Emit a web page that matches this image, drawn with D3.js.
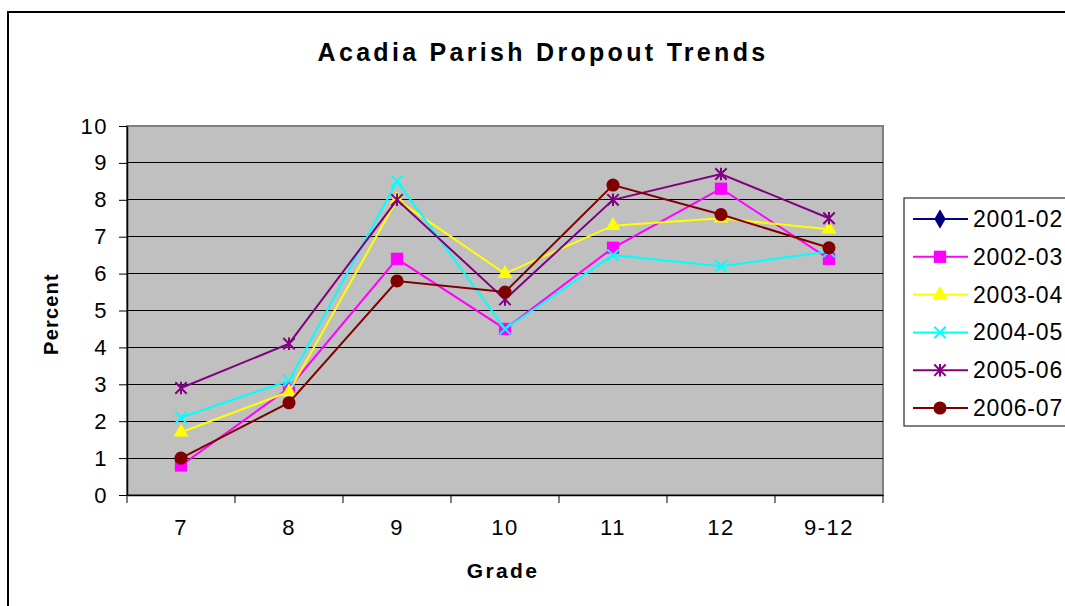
<!DOCTYPE html>
<html>
<head>
<meta charset="utf-8">
<script src="https://cdn.jsdelivr.net/npm/d3@7"></script>
<style>
  body { margin: 0; background: #fff; }
  text { font-family: "Liberation Sans", Arial, sans-serif; }
</style>
</head>
<body>
<div id="chart-area"></div>
<script>
// data
const grades = ["7", "8", "9", "10", "11", "12", "9-12"]
const seasons = ["2001-02", "2002-03", "2003-04", "2004-05", "2005-06", "2006-07"]
const yTicks = [0, 1, 2, 3, 4, 5, 6, 7, 8, 9, 10]

const v0102 = [null, null, null, null, null, null, null]   // in legend only, no points drawn
const v0203 = [0.8, 2.9, 6.4, 4.5, 6.7, 8.3, 6.4]
const v0304 = [1.7, 2.8, 8.0, 6.0, 7.3, 7.5, 7.2]
const v0405 = [2.1, 3.1, 8.5, 4.5, 6.5, 6.2, 6.6]
const v0506 = [2.9, 4.1, 8.0, 5.3, 8.0, 8.7, 7.5]
const v0607 = [1.0, 2.5, 5.8, 5.5, 8.4, 7.6, 6.7]

const W = 1065, H = 606
const PLOT = { LEFT: 127, RIGHT: 883, TOP: 126, BOTTOM: 495 }

// excel style star: an x with a vertical bar
const symbolStar = {
  draw(ctx, size) {
    const r = Math.sqrt(size) / 2
    ctx.moveTo(-r, -r); ctx.lineTo(r, r)
    ctx.moveTo(-r, r); ctx.lineTo(r, -r)
    ctx.moveTo(0, -r * 1.1); ctx.lineTo(0, r * 1.1)
  }
}
const symbolCross = {
  draw(ctx, size) {
    const r = Math.sqrt(size) / 2
    ctx.moveTo(-r, -r); ctx.lineTo(r, r)
    ctx.moveTo(-r, r); ctx.lineTo(r, -r)
  }
}

const styles = [
  { color: "#000080", type: d3.symbolDiamond, size: 110, fill: true },
  { color: "#ff00ff", type: d3.symbolSquare, size: 150, fill: true },
  { color: "#ffff00", type: d3.symbolTriangle, size: 95, fill: true },
  { color: "#00ffff", type: symbolCross, size: 130, fill: false },
  { color: "#800080", type: symbolStar, size: 130, fill: false },
  { color: "#800000", type: d3.symbolCircle, size: 135, fill: true }
]
const values = [v0102, v0203, v0304, v0405, v0506, v0607]

const svg = d3.select("#chart-area").append("svg")
  .attr("width", W)
  .attr("height", H)

// outer chart border (runs off the right and bottom edges)
svg.append("rect")
  .attr("x", 8).attr("y", 12)
  .attr("width", W + 20).attr("height", H + 20)
  .attr("fill", "#fff")
  .attr("stroke", "#000")
  .attr("stroke-width", 2)

const x = d3.scaleBand()
  .domain(grades)
  .range([PLOT.LEFT, PLOT.RIGHT])
  .padding(0)

const y = d3.scaleLinear()
  .domain([0, 10])
  .range([PLOT.BOTTOM, PLOT.TOP])

// plot background
svg.append("rect")
  .attr("x", PLOT.LEFT).attr("y", PLOT.TOP)
  .attr("width", PLOT.RIGHT - PLOT.LEFT)
  .attr("height", PLOT.BOTTOM - PLOT.TOP)
  .attr("fill", "#c0c0c0")
  .attr("stroke", "#808080")
  .attr("stroke-width", 2)

// gridlines
svg.append("g")
  .selectAll("line")
  .data(yTicks.filter(d => d > 0 && d < 10))
  .enter().append("line")
    .attr("x1", PLOT.LEFT).attr("x2", PLOT.RIGHT)
    .attr("y1", d => y(d)).attr("y2", d => y(d))
    .attr("stroke", "#000")
    .attr("stroke-width", 1)
    .attr("shape-rendering", "crispEdges")

// Y axis
const yAxisGroup = svg.append("g")
  .attr("transform", `translate(${PLOT.LEFT}, 0)`)
  .call(d3.axisLeft(y).tickValues(yTicks).tickSize(8).tickSizeOuter(0).tickPadding(11))
yAxisGroup.select(".domain").attr("stroke", "#000").attr("stroke-width", 1.5)
yAxisGroup.selectAll(".tick line").attr("stroke", "#000")
yAxisGroup.selectAll("text")
  .attr("font-size", "22px")
  .attr("letter-spacing", "1.5px")
  .attr("font-family", "Liberation Sans, Arial, sans-serif")
  .attr("fill", "#000")

// X axis: labels centred, tick marks on category edges
const xAxisGroup = svg.append("g")
  .attr("transform", `translate(0, ${PLOT.BOTTOM})`)
  .call(d3.axisBottom(x).tickSize(0).tickSizeOuter(0).tickPadding(24))
xAxisGroup.select(".domain").attr("stroke", "#000").attr("stroke-width", 1.5)
xAxisGroup.selectAll("text")
  .attr("font-size", "22px")
  .attr("letter-spacing", "1.5px")
  .attr("font-family", "Liberation Sans, Arial, sans-serif")
  .attr("fill", "#000")
xAxisGroup.selectAll(".edge")
  .data(grades.map(g => x(g)).concat([x.range()[1]]))
  .enter().append("line")
    .attr("class", "edge")
    .attr("x1", d => d).attr("x2", d => d)
    .attr("y1", 0).attr("y2", 8)
    .attr("stroke", "#000")

// axis labels + title
svg.append("text")
  .attr("x", 543).attr("y", 61)
  .attr("text-anchor", "middle")
  .attr("font-size", "25px")
  .attr("font-weight", "bold")
  .attr("letter-spacing", "3.3px")
  .text("Acadia Parish Dropout Trends")

svg.append("text")
  .attr("x", 503).attr("y", 578)
  .attr("text-anchor", "middle")
  .attr("font-size", "21px")
  .attr("font-weight", "bold")
  .attr("letter-spacing", "2.4px")
  .text("Grade")

svg.append("text")
  .attr("transform", "translate(58, 314) rotate(-90)")
  .attr("text-anchor", "middle")
  .attr("font-size", "20px")
  .attr("font-weight", "bold")
  .attr("letter-spacing", "1.2px")
  .text("Percent")

// series
const line = d3.line()
  .defined(d => d.v != null)
  .x(d => x(d.g) + x.bandwidth() / 2)
  .y(d => y(d.v))

seasons.forEach((s, i) => {
  const st = styles[i]
  const pts = grades.map((g, j) => ({ g: g, v: values[i][j] }))
  const sg = svg.append("g").attr("class", "series")

  sg.append("path")
    .datum(pts)
    .attr("d", line)
    .attr("fill", "none")
    .attr("stroke", st.color)
    .attr("stroke-width", 2)

  sg.selectAll("path.marker")
    .data(pts.filter(d => d.v != null))
    .enter().append("path")
      .attr("class", "marker")
      .attr("transform", d => `translate(${x(d.g) + x.bandwidth() / 2}, ${y(d.v)})`)
      .attr("d", d3.symbol().type(st.type).size(st.size))
      .attr("fill", st.fill ? st.color : "none")
      .attr("stroke", st.color)
      .attr("stroke-width", st.fill ? 0 : 2)
})

// legend
const LEG = { X: 904, Y: 198, ROW: 37.8 }
svg.append("rect")
  .attr("x", LEG.X).attr("y", LEG.Y)
  .attr("width", 200).attr("height", 228)
  .attr("fill", "#fff")
  .attr("stroke", "#000")
  .attr("stroke-width", 1)

const legend = svg.append("g")
  .selectAll("g")
  .data(seasons)
  .enter().append("g")
    .attr("transform", (d, i) => `translate(${LEG.X}, ${LEG.Y + 21 + i * LEG.ROW})`)

legend.append("line")
  .attr("x1", 9).attr("x2", 64)
  .attr("stroke", (d, i) => styles[i].color)
  .attr("stroke-width", 2)

legend.append("path")
  .attr("transform", "translate(36, 0)")
  .attr("d", (d, i) => d3.symbol().type(styles[i].type).size(styles[i].size)())
  .attr("fill", (d, i) => styles[i].fill ? styles[i].color : "none")
  .attr("stroke", (d, i) => styles[i].color)
  .attr("stroke-width", (d, i) => styles[i].fill ? 0 : 2)

legend.append("text")
  .attr("x", 69).attr("y", 8)
  .attr("font-size", "23px")
  .attr("letter-spacing", "0.8px")
  .text(d => d)
</script>
</body>
</html>
